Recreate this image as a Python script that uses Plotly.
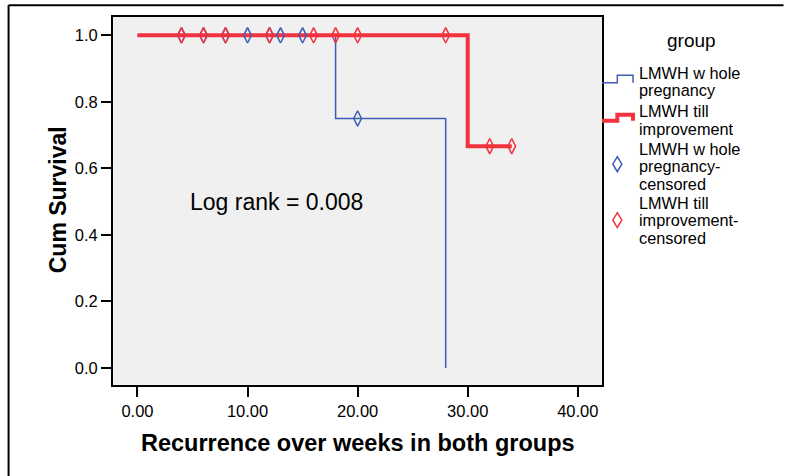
import plotly.graph_objects as go

# ---- data ----
blue_name = "LMWH w hole pregnancy"
red_name = "LMWH till improvement"
# Kaplan-Meier step curves (time, survival)
blue_time = [0, 18, 18, 28, 28]
blue_surv = [1.0, 1.0, 0.75, 0.75, 0.0]
red_time = [0, 30, 30, 34]
red_surv = [1.0, 1.0, 0.6667, 0.6667]
# censored observations
blue_cens_time = [4, 6, 8, 10, 12, 13, 15, 20]
blue_cens_surv = [1.0, 1.0, 1.0, 1.0, 1.0, 1.0, 1.0, 0.75]
red_cens_time = [4, 6, 8, 12, 16, 18, 20, 28, 32, 34]
red_cens_surv = [1.0, 1.0, 1.0, 1.0, 1.0, 1.0, 1.0, 1.0, 0.6667, 0.6667]
x_ticks = [0, 10, 20, 30, 40]
y_ticks = [0.0, 0.2, 0.4, 0.6, 0.8, 1.0]
annotation_text = "Log rank = 0.008"
legend_title = "group"
legend_lines = [
    ["LMWH w hole", "pregnancy"],
    ["LMWH till", "improvement"],
    ["LMWH w hole", "pregnancy-", "censored"],
    ["LMWH till", "improvement-", "censored"],
]

BLUE = "#3f5bb5"
RED = "#f2323e"
FONT = "Liberation Sans, Arial, sans-serif"

W, H = 787, 476
PL, PR, PT, PB = 113.3, 601.7, 16.7, 385.0


def X(px):
    return (px - PL) / (PR - PL)


def Y(py):
    return (PB - py) / (PB - PT)


fig = go.Figure()
fig.add_trace(go.Scatter(x=blue_time, y=blue_surv, mode="lines",
                         line=dict(color=BLUE, width=1.5), name=blue_name))
fig.add_trace(go.Scatter(x=red_time, y=red_surv, mode="lines",
                         line=dict(color=RED, width=4), name=red_name))
fig.add_trace(go.Scatter(x=blue_cens_time, y=blue_cens_surv, mode="markers",
                         marker=dict(symbol="diamond-tall-open", size=11,
                                     color=BLUE, line=dict(width=1.5, color=BLUE)),
                         name=blue_name + "-censored"))
fig.add_trace(go.Scatter(x=red_cens_time, y=red_cens_surv, mode="markers",
                         marker=dict(symbol="diamond-tall-open", size=11,
                                     color=RED, line=dict(width=1.5, color=RED)),
                         name=red_name + "-censored"))

shapes = []
annotations = []

# outer frame (top & left lines)
shapes.append(dict(type="line", xref="paper", yref="paper",
                   x0=X(9), x1=X(783), y0=Y(5), y1=Y(5),
                   line=dict(color="black", width=2)))
shapes.append(dict(type="line", xref="paper", yref="paper",
                   x0=X(9), x1=X(9), y0=Y(5), y1=Y(480),
                   line=dict(color="black", width=2)))

# legend
annotations.append(dict(text=legend_title, xref="paper", yref="paper",
                        x=X(691), y=Y(40), showarrow=False,
                        font=dict(size=19, color="black", family=FONT),
                        xanchor="center", yanchor="middle"))

line_y = [[72.6, 90.2], [110.7, 128.3], [148.8, 166.3, 183.8], [202.7, 220.2, 237.7]]
for lines, ys in zip(legend_lines, line_y):
    for t, yy in zip(lines, ys):
        annotations.append(dict(text=t, xref="paper", yref="paper",
                                x=X(636.5), y=Y(yy), showarrow=False,
                                font=dict(size=16.3, color="black", family=FONT),
                                xanchor="left", yanchor="middle"))


def step_path(ylow, yhigh):
    pts = [(601.7, ylow), (617, ylow), (617, yhigh), (632.7, yhigh), (632.7, ylow)]
    return "M " + " L ".join(f"{X(a)},{Y(b)}" for a, b in pts)


shapes.append(dict(type="path", xref="paper", yref="paper",
                   path=step_path(82.5, 75), line=dict(color=BLUE, width=1.5)))
shapes.append(dict(type="path", xref="paper", yref="paper",
                   path=step_path(120.5, 114.5), line=dict(color=RED, width=4)))


def diamond_path(cx, cy, hw, hh):
    pts = [(cx, cy - hh), (cx + hw, cy), (cx, cy + hh), (cx - hw, cy)]
    return "M " + " L ".join(f"{X(a)},{Y(b)}" for a, b in pts) + " Z"


shapes.append(dict(type="path", xref="paper", yref="paper",
                   path=diamond_path(617, 164, 4.5, 7.5), line=dict(color=BLUE, width=1.5)))
shapes.append(dict(type="path", xref="paper", yref="paper",
                   path=diamond_path(617, 220, 4.5, 7.5), line=dict(color=RED, width=1.5)))

# log rank text
annotations.append(dict(text=annotation_text, xref="paper", yref="paper",
                        x=X(276.7), y=Y(201.7), showarrow=False,
                        font=dict(size=23, color="black", family=FONT),
                        xanchor="center", yanchor="middle"))

# axis titles
annotations.append(dict(text="<b>Cum Survival</b>", xref="paper", yref="paper",
                        x=X(58.5), y=Y(200), textangle=-90, showarrow=False,
                        font=dict(size=23, color="black", family=FONT),
                        xanchor="center", yanchor="middle"))
annotations.append(dict(text="<b>Recurrence over weeks in both groups</b>",
                        xref="paper", yref="paper", x=0.5, y=Y(443), showarrow=False,
                        font=dict(size=23.5, color="black", family=FONT),
                        xanchor="center", yanchor="middle"))

fig.update_layout(
    width=W, height=H,
    margin=dict(l=PL, r=W - PR, t=PT, b=H - PB, pad=0),
    paper_bgcolor="white", plot_bgcolor="#f0f0f0",
    showlegend=False,
    shapes=shapes, annotations=annotations,
    font=dict(family=FONT, color="black"),
)
fig.update_xaxes(range=[-2.22, 42.2], tickvals=x_ticks, tickformat=".2f",
                 showgrid=False, zeroline=False, showline=True, mirror=True,
                 linecolor="black", linewidth=2, ticks="outside", ticklen=10,
                 tickwidth=2, tickcolor="black", tickfont=dict(size=16.5, family=FONT))
fig.update_yaxes(range=[-0.051, 1.055], tickvals=y_ticks, tickformat=".1f",
                 showgrid=False, zeroline=False, showline=True, mirror=True,
                 linecolor="black", linewidth=2, ticks="outside", ticklen=10,
                 tickwidth=2, tickcolor="black", tickfont=dict(size=16.5, family=FONT))

fig.write_html("out.html", config={"displayModeBar": False},
               post_script="document.body.style.margin='0';")
